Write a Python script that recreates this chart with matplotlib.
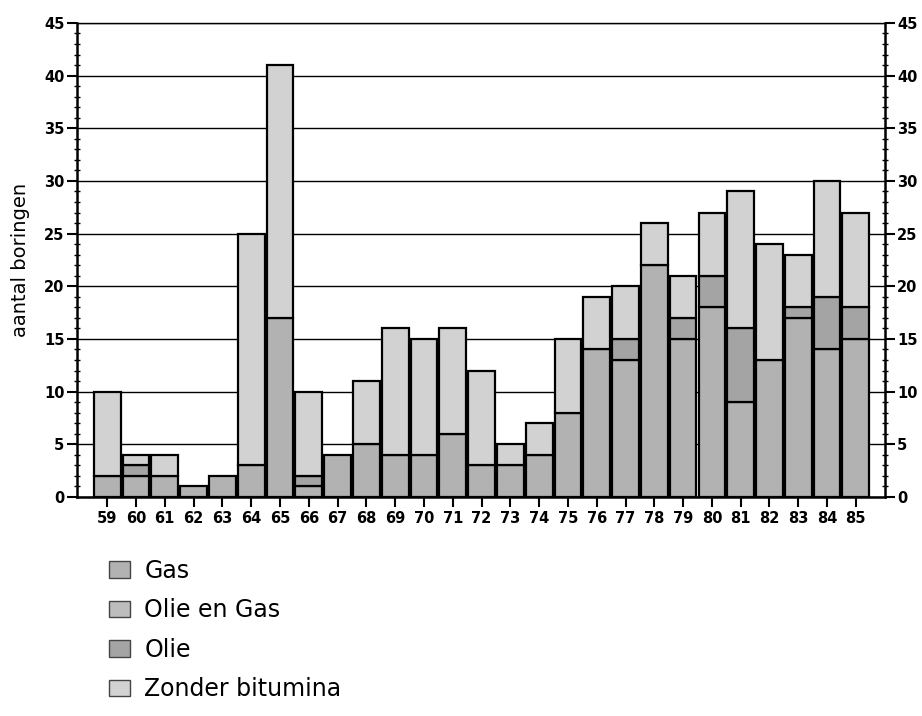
import matplotlib
matplotlib.use("Agg")
import matplotlib.pyplot as plt
import numpy as np
from matplotlib.patches import Patch

# jaar (19xx)
years = [59, 60, 61, 62, 63, 64, 65, 66, 67, 68, 69, 70, 71, 72,
         73, 74, 75, 76, 77, 78, 79, 80, 81, 82, 83, 84, 85]

gas = [2, 2, 2, 1, 2, 3, 17, 1, 4, 5, 4, 4, 6, 3,
       3, 4, 8, 14, 13, 22, 15, 18, 9, 13, 17, 14, 15]
olie_en_gas = [0, 0, 0, 0, 0, 0, 0, 0, 0, 0, 0, 0, 0, 0,
               0, 0, 0, 0, 0, 0, 0, 0, 0, 0, 0, 0, 0]
olie = [0, 1, 0, 0, 0, 0, 0, 1, 0, 0, 0, 0, 0, 0,
        0, 0, 0, 0, 2, 0, 2, 3, 7, 0, 1, 5, 3]
zonder = [8, 1, 2, 0, 0, 22, 24, 8, 0, 6, 12, 11, 10, 9,
          2, 3, 7, 5, 5, 4, 4, 6, 13, 11, 5, 11, 9]

y_ticks = [0, 5, 10, 15, 20, 25, 30, 35, 40, 45]

labels = ["Gas", "Olie en Gas", "Olie", "Zonder bitumina"]
colors = ["#b2b2b2", "#bdbdbd", "#a4a4a4", "#d2d2d2"]

plt.rcParams["font.family"] = ["DejaVu Sans"]

fig = plt.figure(figsize=(9.22, 7.16), dpi=100)
ax = fig.add_axes([0.0835, 0.306, 0.876, 0.662])

x = np.array(years)
bottom = np.zeros(len(years))
for series, color in zip([gas, olie_en_gas, olie, zonder], colors):
    vals = np.array(series, dtype=float)
    mask = vals > 0
    ax.bar(x[mask], vals[mask], bottom=bottom[mask], width=0.93,
           color=color, edgecolor="black", linewidth=1.6, zorder=3)
    bottom += vals

ax.set_xlim(57.95, 86.0)
ax.set_ylim(0, 45)
ax.set_yticks(y_ticks)
ax.set_yticklabels([str(v) for v in y_ticks], fontweight="bold")
ax.set_yticks(np.arange(0, 46, 1), minor=True)
ax.set_xticks(years)
ax.set_xticklabels([str(y) for y in years], fontweight="bold", fontsize=10.5)

ax.yaxis.grid(True, which="major", color="black", linewidth=1.0, zorder=0)
ax.set_axisbelow(True)

ax.tick_params(axis="y", which="major", direction="out", length=7, width=1.5,
               left=True, right=True, labelleft=True, labelright=True,
               labelsize=10.5, pad=2)
ax.tick_params(axis="y", which="minor", direction="inout", length=5, width=1.0,
               left=True, right=True)
ax.tick_params(axis="x", which="major", direction="out", length=7, width=1.5,
               pad=3)

for side in ["left", "right", "bottom"]:
    ax.spines[side].set_linewidth(1.8)
ax.spines["top"].set_linewidth(1.0)

ax.set_ylabel("aantal boringen", fontsize=14, labelpad=10)

handles = [Patch(facecolor=c, edgecolor="#444444", linewidth=1.0) for c in colors]
fig.legend(handles, labels, loc="upper left", bbox_to_anchor=(0.108, 0.233),
           frameon=False, fontsize=17, handlelength=0.9, handleheight=0.7,
           handletextpad=0.6, labelspacing=0.66, borderaxespad=0)

fig.savefig("out.png", dpi=100)
